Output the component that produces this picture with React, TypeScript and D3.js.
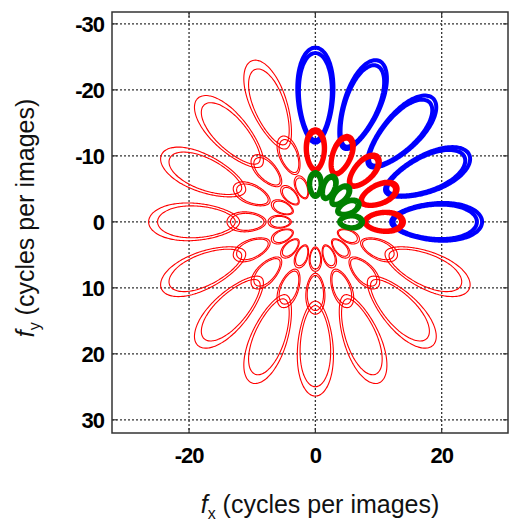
import React from 'react';
import * as d3 from 'd3';

// ---- axis ticks ----
const xTicks = [-20, 0, 20];
const yTicks = [-30, -20, -10, 0, 10, 20, 30];
const xDomain = [-32.2, 30.5];
const yDomain = [-31.8, 32];

// ---- filter bank ----
// orientations in degrees (0 = +fx, 90 = up on the plot)
const thickOrientations = [0, 22.5, 45, 67.5, 90];
const thinOrientations = [112.5, 135, 157.5, 180, 202.5, 225, 247.5, 270, 292.5, 315, 337.5];

// three radial scales: coarse, medium, fine
const scaleNames = ['coarse', 'medium', 'fine'];
const innerRadii = [12.0, 7.8, 3.8];
const outerRadii = [26.4, 14.0, 7.5];
const halfAnglesDeg = [8.6, 8.0, 10.0];
const thickColors = ['#0000ff', '#ff0000', '#008000'];
const thickWidths = [4.0, 4.4, 4.6];
const innerContourRatio = [0.92, 0.9, 0.88];
const thinContourRatio = 0.86;

const W = 509;
const H = 521;
const frame = { left: 112, right: 508, top: 12, bottom: 433 };

const x = d3.scaleLinear().domain(xDomain).range([frame.left, frame.right]);
const y = d3.scaleLinear().domain(yDomain).range([frame.top, frame.bottom]);

type P = [number, number];

function petalPoints(thetaDeg: number, rIn: number, rOut: number, halfDeg: number, k: number): P[] {
  const f0 = Math.sqrt(rIn * rOut);
  const a = Math.log(rOut / f0) * k;
  const phiMax = (halfDeg * Math.PI) / 180 * k;
  const th = (thetaDeg * Math.PI) / 180;
  const pts: P[] = [];
  const N = 120;
  for (let i = 0; i < N; i++) {
    const t = (2 * Math.PI * i) / N;
    const r = f0 * Math.exp(a * Math.cos(t));
    const ang = th + phiMax * Math.sin(t);
    pts.push([r * Math.cos(ang), -r * Math.sin(ang)]);
  }
  return pts;
}

const line = d3
  .line<P>()
  .x((d) => x(d[0]))
  .y((d) => y(d[1]))
  .curve(d3.curveCardinalClosed.tension(0.5));

const FONT = '"Liberation Sans", Arial, Helvetica, sans-serif';

export default function App() {
  const thinPaths: string[] = [];
  thinOrientations.forEach((o) => {
    scaleNames.forEach((_, s) => {
      [1, thinContourRatio].forEach((k) => {
        thinPaths.push(line(petalPoints(o, innerRadii[s], outerRadii[s], halfAnglesDeg[s], k)) as string);
      });
    });
  });

  const thickLayers = scaleNames.map((_, s) => {
    const paths: string[] = [];
    thickOrientations.forEach((o) => {
      [1, innerContourRatio[s]].forEach((k) => {
        paths.push(line(petalPoints(o, innerRadii[s], outerRadii[s], halfAnglesDeg[s], k)) as string);
      });
    });
    return { color: thickColors[s], width: thickWidths[s], paths };
  });

  const tickLen = 5;

  return (
    <svg
      width={W}
      height={H}
      style={{ position: 'absolute', left: 0, top: 0, background: '#fff' }}
      fontFamily={FONT}
    >
      <rect x={0} y={0} width={W} height={H} fill="#fff" />
      {/* grid */}
      <g stroke="#333" strokeWidth={1.3} strokeDasharray="2 2">
        {xTicks.map((t) => (
          <line key={'gx' + t} x1={x(t)} x2={x(t)} y1={frame.top} y2={frame.bottom} />
        ))}
        {yTicks.map((t) => (
          <line key={'gy' + t} x1={frame.left} x2={frame.right} y1={y(t)} y2={y(t)} />
        ))}
      </g>
      {/* thin red contours */}
      <g fill="none" stroke="#ff0000" strokeWidth={1.1} strokeLinejoin="round">
        {thinPaths.map((d, i) => (
          <path key={'t' + i} d={d} />
        ))}
      </g>
      {/* thick contours */}
      {thickLayers.map((layer, s) => (
        <g key={'L' + s} fill="none" stroke={layer.color} strokeWidth={layer.width} strokeLinejoin="round">
          {layer.paths.map((d, i) => (
            <path key={i} d={d} />
          ))}
        </g>
      ))}
      {/* frame */}
      <rect
        x={frame.left}
        y={frame.top}
        width={frame.right - frame.left}
        height={frame.bottom - frame.top}
        fill="none"
        stroke="#333"
        strokeWidth={1.5}
      />
      {/* ticks */}
      <g stroke="#333" strokeWidth={1.2}>
        {xTicks.map((t) => (
          <g key={'tx' + t}>
            <line x1={x(t)} x2={x(t)} y1={frame.bottom} y2={frame.bottom - tickLen} />
            <line x1={x(t)} x2={x(t)} y1={frame.top} y2={frame.top + tickLen} />
          </g>
        ))}
        {yTicks.map((t) => (
          <g key={'ty' + t}>
            <line x1={frame.left} x2={frame.left + tickLen} y1={y(t)} y2={y(t)} />
            <line x1={frame.right} x2={frame.right - tickLen} y1={y(t)} y2={y(t)} />
          </g>
        ))}
      </g>
      {/* tick labels */}
      <g fontSize={22} fontWeight="bold" fill="#000" letterSpacing={-1}>
        {xTicks.map((t) => (
          <text key={'lx' + t} x={x(t)} y={463} textAnchor="middle">
            {String(t)}
          </text>
        ))}
        {yTicks.map((t) => (
          <text key={'ly' + t} x={104} y={y(t) + 8} textAnchor="end">
            {String(t)}
          </text>
        ))}
      </g>
      {/* axis labels */}
      <text x={320} y={513} textAnchor="middle" fontSize={25} fill="#111">
        <tspan fontStyle="italic">f</tspan>
        <tspan dy={6} fontSize={16}>x</tspan>
        <tspan dy={-6}> (cycles per images)</tspan>
      </text>
      <text
        transform={`translate(34,218) rotate(-90)`}
        textAnchor="middle"
        fontSize={25}
        fill="#111"
      >
        <tspan fontStyle="italic">f</tspan>
        <tspan dy={6} fontSize={16}>y</tspan>
        <tspan dy={-6}> (cycles per images)</tspan>
      </text>
    </svg>
  );
}
